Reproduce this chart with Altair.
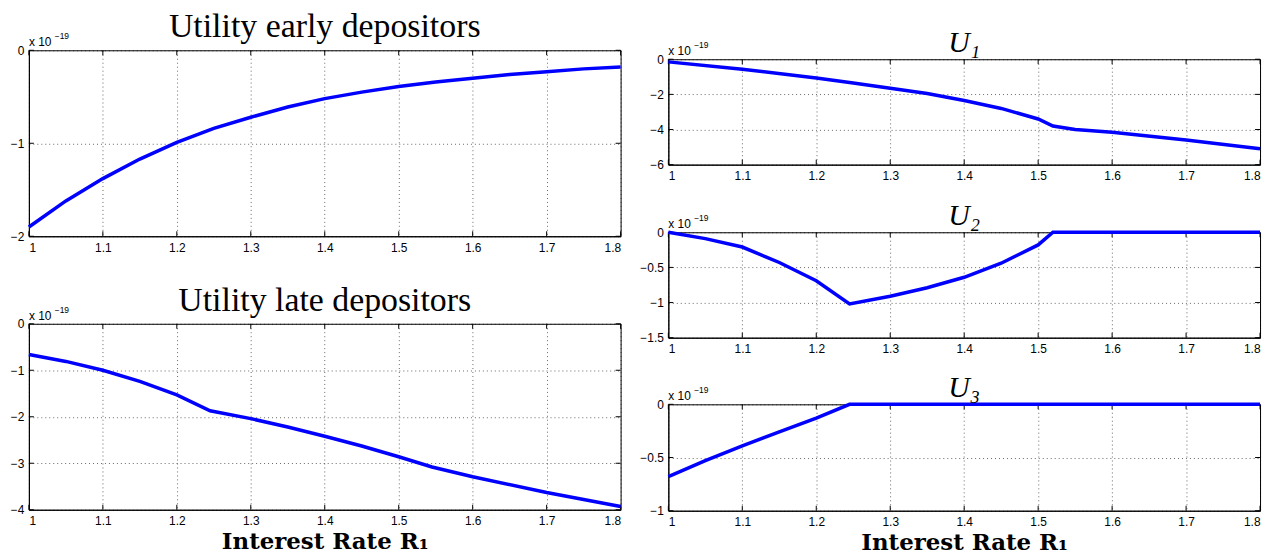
import altair as alt
import pandas as pd

# ---------------- data ----------------
x_ticks = [1.0, 1.1, 1.2, 1.3, 1.4, 1.5, 1.6, 1.7, 1.8]

early_x = [1.0, 1.05, 1.1, 1.15, 1.2, 1.25, 1.3, 1.35, 1.4, 1.45, 1.5, 1.55, 1.6, 1.65, 1.7, 1.75, 1.8]
early_y = [-1.90, -1.62, -1.38, -1.17, -0.99, -0.84, -0.72, -0.61, -0.52, -0.45, -0.39, -0.34, -0.30, -0.26, -0.23, -0.20, -0.18]

late_x = [1.0, 1.05, 1.1, 1.15, 1.2, 1.245, 1.3, 1.35, 1.4, 1.45, 1.5, 1.545, 1.6, 1.7, 1.8]
late_y = [-0.66, -0.81, -1.0, -1.24, -1.53, -1.87, -2.04, -2.22, -2.42, -2.63, -2.86, -3.08, -3.29, -3.63, -3.93]

u1_x = [1.0, 1.1, 1.2, 1.25, 1.3, 1.35, 1.4, 1.45, 1.5, 1.52, 1.55, 1.6, 1.7, 1.8]
u1_y = [-0.15, -0.57, -1.07, -1.35, -1.65, -1.95, -2.35, -2.8, -3.4, -3.8, -4.0, -4.15, -4.6, -5.1]

u2_x = [1.0, 1.05, 1.1, 1.15, 1.2, 1.245, 1.3, 1.35, 1.4, 1.45, 1.5, 1.52, 1.6, 1.7, 1.8]
u2_y = [0.0, -0.09, -0.21, -0.43, -0.69, -1.02, -0.91, -0.79, -0.64, -0.44, -0.18, 0.0, 0.0, 0.0, 0.0]

u3_x = [1.0, 1.05, 1.1, 1.15, 1.2, 1.245, 1.3, 1.4, 1.5, 1.6, 1.7, 1.8]
u3_y = [-0.68, -0.53, -0.39, -0.26, -0.13, 0.0, 0.0, 0.0, 0.0, 0.0, 0.0, 0.0]

early_ticks = [-2, -1, 0]
late_ticks = [-4, -3, -2, -1, 0]
u1_ticks = [-6, -4, -2, 0]
u2_ticks = [-1.5, -1, -0.5, 0]
u3_ticks = [-1, -0.5, 0]

titles = ["Utility early depositors", "Utility late depositors", "U₁", "U₂", "U₃"]
xlabel = "Interest Rate R₁"
exp_base = "x 10"
exp_power = "−19"

LINE = "#0000ff"
SERIF = "Liberation Serif"
SANS = "Liberation Sans"
TICK = 5


def guide_rule(x1, x2, y):
    return alt.Chart(pd.DataFrame({"g": [0]})).mark_rule(
        strokeOpacity=0, strokeWidth=0.01).encode(
        x=alt.value(x1), x2=alt.value(x2), y=alt.value(y), y2=alt.value(y))


def panel(xs, ys, ticks, w, h, title, italic, title_off, title_size,
          xtitle=None, guides=()):
    df = pd.DataFrame({"x": xs, "y": ys})
    xscale = alt.Scale(domain=[1, 1.8], nice=False, zero=False)
    yscale = alt.Scale(domain=[min(ticks), max(ticks)], nice=False, zero=False)
    xaxis = alt.Axis(values=x_ticks, format="~g", title=xtitle,
                     titleFont="DejaVu Serif", titleFontSize=23, titleFontWeight="bold",
                     titleColor="black", titlePadding=4)
    yaxis = alt.Axis(values=ticks, format="~g", title=None)
    X = alt.X("x:Q", scale=xscale, axis=xaxis)
    Y = alt.Y("y:Q", scale=yscale, axis=yaxis)
    line = alt.Chart(df).mark_line(color=LINE, strokeWidth=3.5).encode(x=X, y=Y)
    # inward MATLAB-style ticks
    xt = pd.DataFrame({"x": x_ticks})
    yt = pd.DataFrame({"y": ticks})
    xtb = alt.Chart(xt).mark_rule(color="black", strokeWidth=1).encode(
        x=X, y=alt.value(h), y2=alt.value(h - TICK))
    xtt = alt.Chart(xt).mark_rule(color="black", strokeWidth=1).encode(
        x=X, y=alt.value(0), y2=alt.value(TICK))
    ytl = alt.Chart(yt).mark_rule(color="black", strokeWidth=1).encode(
        y=Y, x=alt.value(0), x2=alt.value(TICK))
    ytr = alt.Chart(yt).mark_rule(color="black", strokeWidth=1).encode(
        y=Y, x=alt.value(w), x2=alt.value(w - TICK))

    lab = pd.DataFrame({"t": [exp_base]})
    sup = pd.DataFrame({"t": [exp_power]})
    ttl = pd.DataFrame({"t": [title]})
    t1 = alt.Chart(lab).mark_text(font=SANS, fontSize=12, align="left",
                                  baseline="alphabetic", color="black").encode(
        x=alt.value(0), y=alt.value(-4), text="t:N")
    t2 = alt.Chart(sup).mark_text(font=SANS, fontSize=8.5, align="left",
                                  baseline="alphabetic", color="black").encode(
        x=alt.value(26), y=alt.value(-11), text="t:N")
    tt = alt.Chart(ttl).mark_text(font=SERIF, fontSize=title_size, align="center",
                                  baseline="alphabetic", color="black",
                                  fontStyle="italic" if italic else "normal").encode(
        x=alt.value(w / 2), y=alt.value(-title_off), text="t:N")
    layers = [xtb, xtt, ytl, ytr, line, t1, t2, tt]
    for g in guides:
        layers.append(guide_rule(*g))
    return alt.layer(*layers).properties(width=w, height=h)


def spacer(w):
    return guide_rule(0, 1, 0).properties(
        width=w, height=1, view=alt.ViewBackground(stroke="transparent"))


W = 595
LH = 187
RH = 106
# left column: plot tops at 51 and 324, bottoms at 238 and 511
p_early = panel(early_x, early_y, early_ticks, W, LH, titles[0], False, 13, 34,
                guides=[(-20, W + 10, -42), (-20, W + 10, LH + 28)])
p_late = panel(late_x, late_y, late_ticks, W, LH, titles[1], False, 13, 34,
               xtitle=xlabel, guides=[(-20, W + 10, -58)])
# right column: plot tops at 60, 232, 404
p_u1 = panel(u1_x, u1_y, u1_ticks, W, RH, titles[2], True, 7, 30,
             guides=[(-28, W, -51), (-28, W, RH + 26)])
p_u2 = panel(u2_x, u2_y, u2_ticks, W, RH, titles[3], True, 7, 30,
             guides=[(-28, W, -40), (-28, W, RH + 25)])
p_u3 = panel(u3_x, u3_y, u3_ticks, W, RH + 1, titles[4], True, 7, 30,
             xtitle=xlabel, guides=[(-28, W, -40)])

left = alt.vconcat(spacer(W), p_early, p_late, spacing=0)
right = alt.vconcat(spacer(W), p_u1, p_u2, p_u3, spacing=0)

chart = alt.hconcat(left, right, spacing=7).properties(
    padding={"top": -5, "left": 0, "right": 0, "bottom": 0}
).configure_axis(
    labelFont=SANS, labelFontSize=12, labelColor="black", labelPadding=5,
    ticks=False, domainColor="black", domainWidth=1,
    gridColor="black", gridDash=[1, 3], gridOpacity=0.6, gridWidth=1,
).configure_axisX(labelPadding=6).configure_view(stroke="black", strokeWidth=1)

chart.save("out.html", embed_options={"renderer": "svg", "actions": False})
